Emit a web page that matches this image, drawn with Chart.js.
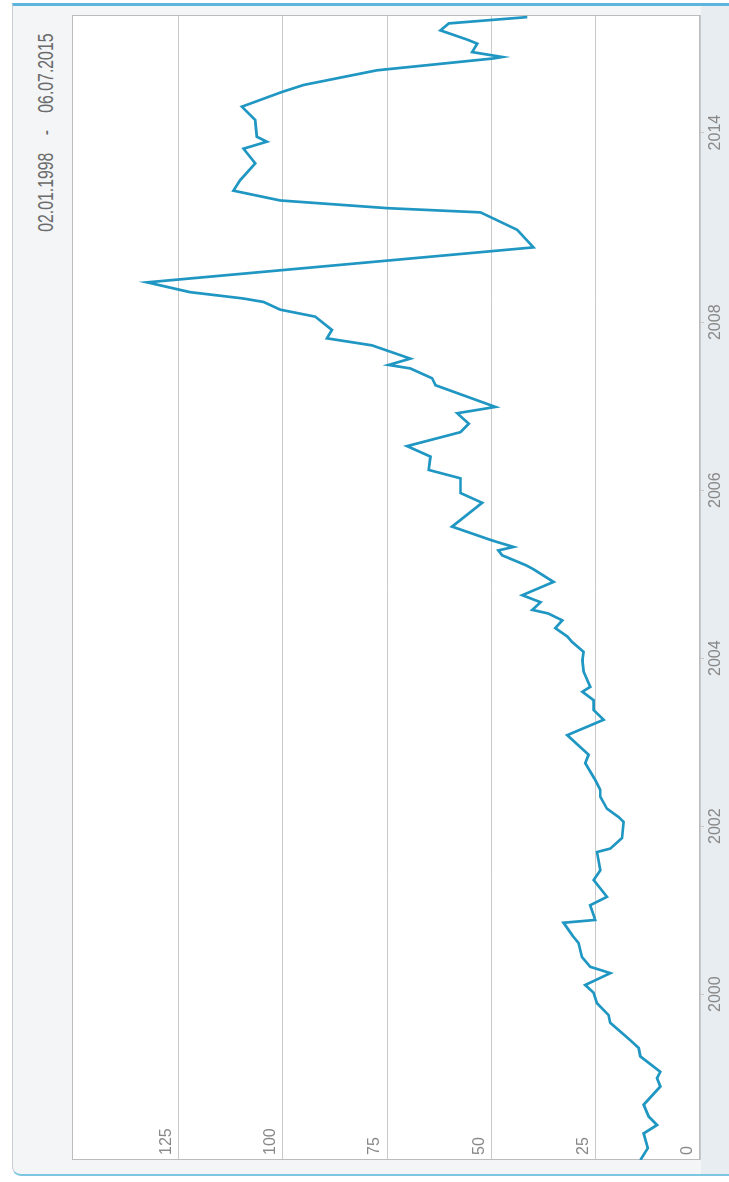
<!DOCTYPE html>
<html>
<head>
<meta charset="utf-8">
<script src="https://cdn.jsdelivr.net/npm/chart.js@4.4.0/dist/chart.umd.min.js"></script>
<style>
  html, body { margin: 0; padding: 0; width: 729px; height: 1182px; overflow: hidden; background: #fff; }
  /* chart is laid out landscape (1182x729) then turned a quarter left */
  #rot { position: absolute; left: 0; top: 0; width: 1182px; height: 729px; transform-origin: 0 0; transform: translate(0, 1182px) rotate(-90deg); }
  #card { position: absolute; left: 6px; top: 12px; width: 1173px; height: 740px; box-sizing: border-box;
          border-top: 1px solid #c6cdd4; border-left: 2px solid #7cc6e2; border-right: 3px solid #5db5dd;
          border-radius: 9px 0 0 0; background: #f3f5f7; overflow: hidden; }
  #xstrip { position: absolute; left: 0; right: 0; top: 688px; bottom: 0; background: #e8edf1; }
  #title { position: absolute; top: 20px; right: 27px; font: 22px "Liberation Sans", Arial, sans-serif; color: #6b6b6b; white-space: nowrap;
           transform: scaleX(0.72); transform-origin: 100% 50%; }
  #title .sep { margin: 0 24px; }
  #wrap { position: absolute; left: 0; top: 0; width: 1182px; height: 729px; }
</style>
</head>
<body>
<div id="rot">
  <div id="card"><div id="xstrip"></div>
    <div id="title"><span>02.01.1998</span><span class="sep">-</span><span>06.07.2015</span></div>
  </div>
  <div id="wrap"><canvas id="ch"></canvas></div>
</div>
<script>
// position on the (ordinal) time axis, one unit ~ one month before the 2009 gap
const T = [0, 1.7, 3.8, 5.0, 6.2, 7.9, 10.5, 11.7, 12.6, 14.8,
  16.0, 17.1, 19.6, 20.7, 22.4, 23.9, 25.0, 26.7, 27.6, 29.0,
  31.0, 32.1, 33.9, 34.3, 36.4, 37.6, 40.0, 41.4, 44.0, 44.5,
  46.0, 48.3, 49.0, 50.2, 51.9, 52.9, 54.3, 56.7, 57.9, 60.7,
  62.9, 64.3, 65.7, 66.9, 67.6, 69.8, 71.4, 72.6, 74.0, 74.8,
  76.0, 77.1, 78.1, 78.6, 79.7, 80.7, 82.6, 84.4, 85.0, 86.4,
  87.1, 87.6, 88.3, 88.6, 90.5, 93.9, 95.3, 97.4, 98.6, 100.5,
  102.0, 104.0, 105.2, 106.7, 107.6, 110.7, 111.7, 113.1, 113.6, 114.5,
  116.4, 117.4, 118.6, 120.5, 121.5, 122.6, 123.1, 124.0, 125.4, 130.4,
  132.9, 135.4, 136.0, 137.1, 138.5, 140.0, 142.4, 144.5, 145.5, 146.2,
  148.6, 150.5, 152.6, 153.6, 155.7, 157.4, 157.6, 158.3, 159.5, 160.0,
  161.4, 162.4, 163.3];

const V = [14.3, 12.5, 13.5, 10.3, 12.3, 13.5, 9.5, 10.3, 9.5, 14.3,
  14.7, 16.7, 21.5, 21.9, 24.7, 25.5, 27.5, 21.5, 26.3, 28.3,
  29.1, 30.6, 32.7, 25.1, 26.3, 22.3, 25.5, 23.9, 24.7, 21.5,
  18.7, 18.3, 19.5, 22.3, 23.9, 23.9, 25.1, 27.5, 26.7, 31.8,
  23.1, 25.5, 25.5, 28.2, 26.3, 27.9, 28.2, 27.9, 30.6, 31.8,
  34.7, 33.0, 36.4, 40.2, 38.2, 42.6, 35.1, 39.9, 41.8, 47.4,
  48.3, 44.7, 48.6, 50.2, 59.4, 52.2, 57.4, 57.4, 65.0, 64.6,
  70.2, 57.4, 55.4, 58.2, 49.0, 63.4, 64.2, 69.4, 74.6, 69.4,
  78.6, 89.4, 88.2, 92.2, 100.6, 104.6, 109.5, 122.2, 132.5, 39.9,
  43.8, 52.6, 74.9, 100.6, 111.8, 110.2, 106.6, 109.4, 103.8, 106.2,
  106.6, 109.8, 100.2, 95.0, 77.4, 49.4, 47.4, 54.6, 53.4, 55.4,
  62.2, 60.2, 41.4];

const X_TICKS = [23.7, 47.7, 71.7, 95.7, 119.7, 146.8];
const X_LABELS = ["2000", "2002", "2004", "2006", "2008", "2014"];
const Y_TICKS = [0, 25, 50, 75, 100, 125];

const plotBox = {
  id: "plotBox",
  beforeDraw(c) { const a = c.chartArea, x = c.ctx; x.save(); x.fillStyle = "#fff"; x.fillRect(a.left, a.top, a.width, a.height); x.restore(); },
  beforeDatasetsDraw(c) { const a = c.chartArea, x = c.ctx; x.save(); x.strokeStyle = "#bcbcbc"; x.lineWidth = 1; x.strokeRect(a.left + .5, a.top + .5, a.width - 1, a.height - 1); x.restore(); }
};

Chart.defaults.font.family = "'Liberation Sans', Arial, sans-serif";

new Chart(document.getElementById("ch"), {
  type: "line",
  data: { datasets: [{ data: T.map((t, i) => ({ x: t, y: V[i] })), borderColor: "#1f97c2", borderWidth: 2.7, pointRadius: 0, tension: 0, fill: false }] },
  options: {
    responsive: true, maintainAspectRatio: false, animation: false, events: [],
    layout: { padding: { top: 72, left: 22, right: 15, bottom: 0 } },
    plugins: { legend: { display: false }, tooltip: { enabled: false } },
    scales: {
      x: { type: "linear", min: 0, max: 163.6,
        afterBuildTicks: s => { s.ticks = X_TICKS.map(v => ({ value: v })); },
        afterFit: s => { s.height = 29; },
        grid: { drawOnChartArea: false, drawTicks: true, tickLength: 4, color: "#c8c8c8" }, border: { display: false },
        ticks: { autoSkip: false, maxRotation: 0, padding: 2, color: "#888", font: { size: 16 }, callback: (v, i) => X_LABELS[i] } },
      y: { min: 0, max: 150.5,
        afterBuildTicks: s => { s.ticks = Y_TICKS.map(v => ({ value: v })); },
        afterFit: s => { s.width = 0; },
        grid: { color: "#c9c9c9", drawTicks: false }, border: { display: false },
        ticks: { mirror: true, padding: 5, labelOffset: -12, color: "#888", font: { size: 16 }, callback: v => String(v) } }
    }
  },
  plugins: [plotBox]
});
</script>
</body>
</html>
